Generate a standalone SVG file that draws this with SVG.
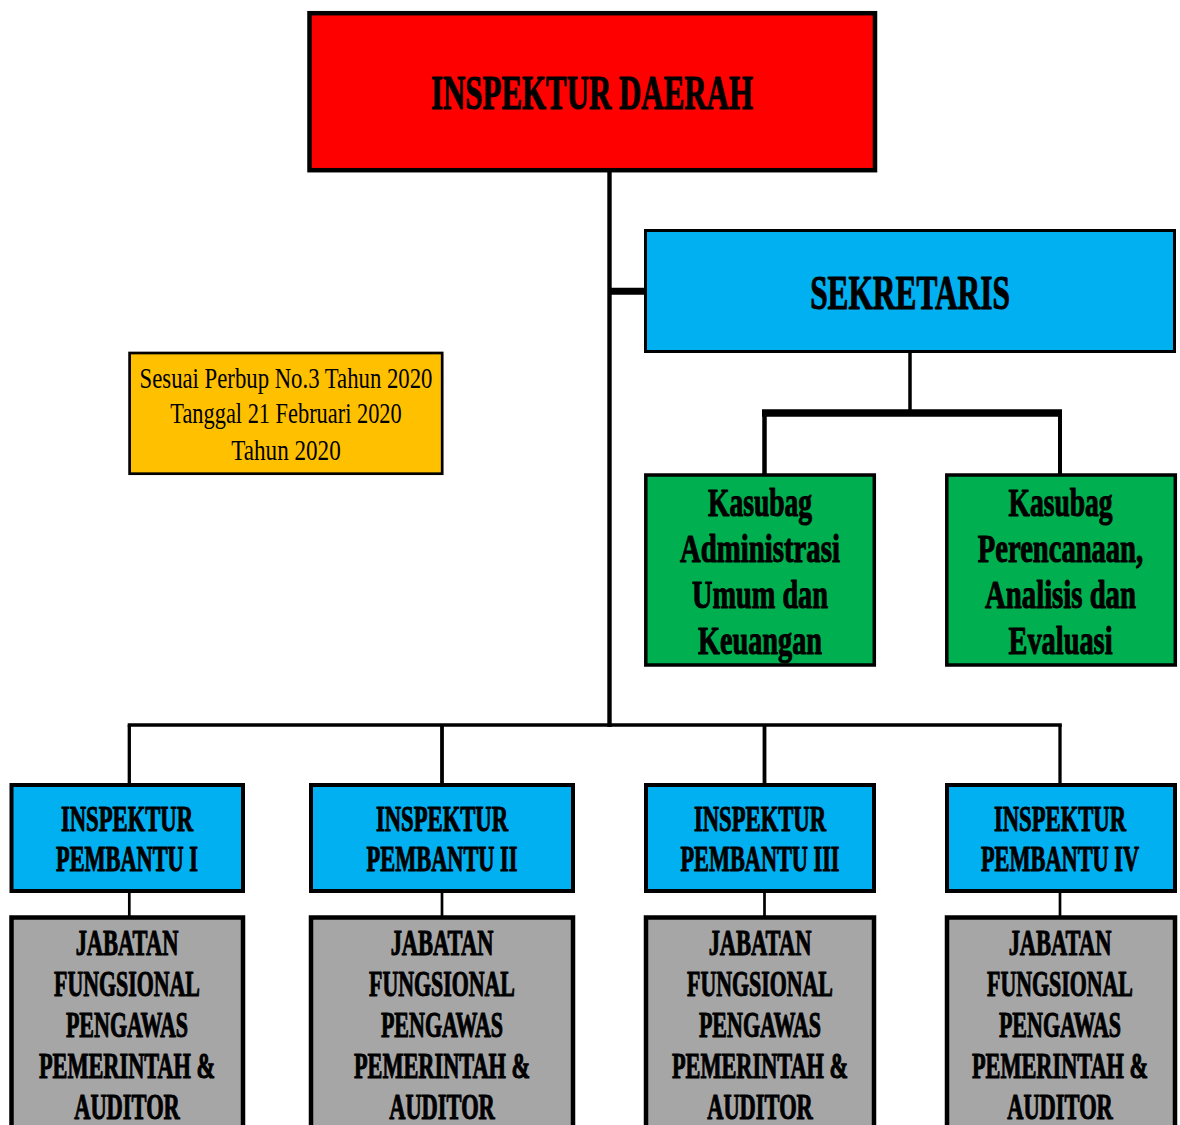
<svg xmlns="http://www.w3.org/2000/svg" width="1180" height="1125" viewBox="0 0 1180 1125">
<style>
.b{font-family:"Liberation Serif","Times New Roman",serif;font-weight:bold;fill:#000;stroke:#000;stroke-width:1.1;stroke-linejoin:round;text-anchor:middle}
.r{font-family:"Liberation Serif","Times New Roman",serif;fill:#000;text-anchor:middle;font-size:30px}
.t{font-size:48px}
.g{font-size:41px}
.s{font-size:36px}
.ln{stroke:#000;fill:none;stroke-linecap:butt}
.box{stroke:#000}
</style>
<rect width="1180" height="1125" fill="#fff"/>
<g id="connectors">
<line class="ln" x1="609.5" y1="171" x2="609.5" y2="727" stroke-width="4.4"/>
<line class="ln" x1="609.5" y1="291.3" x2="645" y2="291.3" stroke-width="7"/>
<line class="ln" x1="910" y1="352" x2="910" y2="413" stroke-width="3.5"/>
<line class="ln" x1="762" y1="413" x2="1062" y2="413" stroke-width="7.5"/>
<line class="ln" x1="764.5" y1="413" x2="764.5" y2="475" stroke-width="4.5"/>
<line class="ln" x1="1060" y1="413" x2="1060" y2="475" stroke-width="4"/>
<line class="ln" x1="127.7" y1="725" x2="1061.8" y2="725" stroke-width="3.5"/>
<line class="ln" x1="129.3" y1="725" x2="129.3" y2="785" stroke-width="3.3"/>
<line class="ln" x1="442" y1="725" x2="442" y2="785" stroke-width="3.8"/>
<line class="ln" x1="764.5" y1="725" x2="764.5" y2="785" stroke-width="3.8"/>
<line class="ln" x1="1060" y1="725" x2="1060" y2="785" stroke-width="3.3"/>
<line class="ln" x1="129.3" y1="892" x2="129.3" y2="917" stroke-width="2.7"/>
<line class="ln" x1="442" y1="892" x2="442" y2="917" stroke-width="2.7"/>
<line class="ln" x1="764.5" y1="892" x2="764.5" y2="917" stroke-width="2.7"/>
<line class="ln" x1="1060" y1="892" x2="1060" y2="917" stroke-width="2.7"/>
</g>
<g id="inspektur-daerah">
<rect class="box" x="309.5" y="13.2" width="565.5" height="157" fill="#ff0000" stroke-width="4.5"/>
<text class="b t" transform="translate(592,109) scale(0.644,1)">INSPEKTUR DAERAH</text>
</g>
<g id="sekretaris">
<rect class="box" x="645.5" y="230.5" width="529" height="121" fill="#00b0f0" stroke-width="3"/>
<text class="b t" transform="translate(910,309) scale(0.653,1)">SEKRETARIS</text>
</g>
<g id="keterangan">
<rect class="box" x="129.6" y="353" width="312.6" height="120.7" fill="#ffc000" stroke-width="2.7"/>
<text class="r" transform="translate(286,388) scale(0.758,1)">Sesuai Perbup No.3 Tahun 2020</text>
<text class="r" transform="translate(286,423) scale(0.746,1)">Tanggal 21 Februari 2020</text>
<text class="r" transform="translate(286,460) scale(0.77,1)">Tahun 2020</text>
</g>
<g id="kasubag-umum">
<rect class="box" x="645.8" y="475" width="228.5" height="190" fill="#00b050" stroke-width="3.5"/>
<text class="b g" transform="translate(760,516) scale(0.671,1)">Kasubag</text>
<text class="b g" transform="translate(760,562) scale(0.702,1)">Administrasi</text>
<text class="b g" transform="translate(760,608) scale(0.690,1)">Umum dan</text>
<text class="b g" transform="translate(760,654) scale(0.689,1)">Keuangan</text>
</g>
<g id="kasubag-perencanaan">
<rect class="box" x="946.8" y="475" width="228.5" height="190" fill="#00b050" stroke-width="3.5"/>
<text class="b g" transform="translate(1060.5,516) scale(0.671,1)">Kasubag</text>
<text class="b g" transform="translate(1060.5,562) scale(0.697,1)">Perencanaan,</text>
<text class="b g" transform="translate(1060.5,608) scale(0.701,1)">Analisis dan</text>
<text class="b g" transform="translate(1060.5,654) scale(0.692,1)">Evaluasi</text>
</g>
<g id="inspektur-pembantu-1">
<rect class="box" x="11.5" y="785" width="231.5" height="106" fill="#00b0f0" stroke-width="4"/>
<text class="b s" transform="translate(127,831) scale(0.629,1)">INSPEKTUR</text>
<text class="b s" transform="translate(127,871) scale(0.62,1)">PEMBANTU I</text>
</g>
<g id="inspektur-pembantu-2">
<rect class="box" x="311" y="785" width="262" height="106" fill="#00b0f0" stroke-width="4"/>
<text class="b s" transform="translate(442,831) scale(0.629,1)">INSPEKTUR</text>
<text class="b s" transform="translate(442,871) scale(0.621,1)">PEMBANTU II</text>
</g>
<g id="inspektur-pembantu-3">
<rect class="box" x="646" y="785" width="228" height="106" fill="#00b0f0" stroke-width="4"/>
<text class="b s" transform="translate(760,831) scale(0.629,1)">INSPEKTUR</text>
<text class="b s" transform="translate(760,871) scale(0.619,1)">PEMBANTU III</text>
</g>
<g id="inspektur-pembantu-4">
<rect class="box" x="947" y="785" width="228" height="106" fill="#00b0f0" stroke-width="4"/>
<text class="b s" transform="translate(1060,831) scale(0.629,1)">INSPEKTUR</text>
<text class="b s" transform="translate(1060,871) scale(0.62,1)">PEMBANTU IV</text>
</g>
<g id="jfp-1">
<rect class="box" x="11.5" y="917.5" width="231.5" height="220" fill="#a6a6a6" stroke-width="4.5"/>
<text class="b s" transform="translate(127,955) scale(0.624,1)">JABATAN</text>
<text class="b s" transform="translate(127,996) scale(0.608,1)">FUNGSIONAL</text>
<text class="b s" transform="translate(127,1037) scale(0.611,1)">PENGAWAS</text>
<text class="b s" transform="translate(127,1078) scale(0.62,1)">PEMERINTAH &amp;</text>
<text class="b s" transform="translate(127,1119) scale(0.624,1)">AUDITOR</text>
</g>
<g id="jfp-2">
<rect class="box" x="311" y="917.5" width="262" height="220" fill="#a6a6a6" stroke-width="4.5"/>
<text class="b s" transform="translate(442,955) scale(0.624,1)">JABATAN</text>
<text class="b s" transform="translate(442,996) scale(0.608,1)">FUNGSIONAL</text>
<text class="b s" transform="translate(442,1037) scale(0.611,1)">PENGAWAS</text>
<text class="b s" transform="translate(442,1078) scale(0.62,1)">PEMERINTAH &amp;</text>
<text class="b s" transform="translate(442,1119) scale(0.624,1)">AUDITOR</text>
</g>
<g id="jfp-3">
<rect class="box" x="646" y="917.5" width="228" height="220" fill="#a6a6a6" stroke-width="4.5"/>
<text class="b s" transform="translate(760,955) scale(0.624,1)">JABATAN</text>
<text class="b s" transform="translate(760,996) scale(0.608,1)">FUNGSIONAL</text>
<text class="b s" transform="translate(760,1037) scale(0.611,1)">PENGAWAS</text>
<text class="b s" transform="translate(760,1078) scale(0.62,1)">PEMERINTAH &amp;</text>
<text class="b s" transform="translate(760,1119) scale(0.624,1)">AUDITOR</text>
</g>
<g id="jfp-4">
<rect class="box" x="947" y="917.5" width="228" height="220" fill="#a6a6a6" stroke-width="4.5"/>
<text class="b s" transform="translate(1060,955) scale(0.624,1)">JABATAN</text>
<text class="b s" transform="translate(1060,996) scale(0.608,1)">FUNGSIONAL</text>
<text class="b s" transform="translate(1060,1037) scale(0.611,1)">PENGAWAS</text>
<text class="b s" transform="translate(1060,1078) scale(0.62,1)">PEMERINTAH &amp;</text>
<text class="b s" transform="translate(1060,1119) scale(0.624,1)">AUDITOR</text>
</g>
</svg>
